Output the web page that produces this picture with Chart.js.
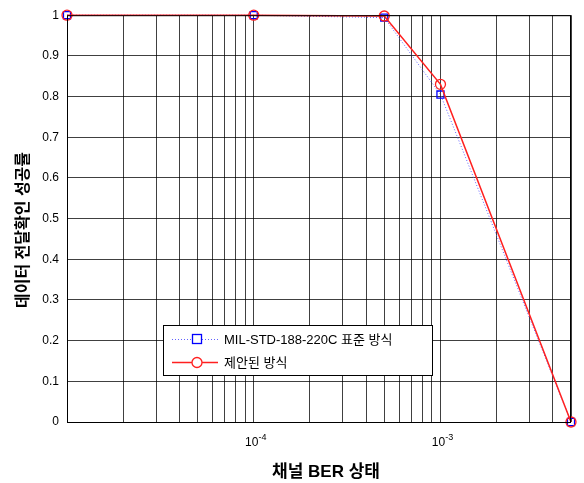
<!DOCTYPE html>
<html>
<head>
<meta charset="utf-8">
<script src="https://cdn.jsdelivr.net/npm/chart.js@4/dist/chart.umd.min.js"></script>
<style>
  html, body { margin: 0; padding: 0; background: #fff; }
  #wrap { width: 584px; height: 483px; }
</style>
</head>
<body>
<div id="wrap"><canvas id="c" width="584" height="483"></canvas></div>
<script>
// Channel BER conditions (x) and acknowledgement success rates (y)
const berValues = [1e-5, 1e-4, 5e-4, 1e-3, 5e-3];
const milStdRates = [1, 1, 0.994, 0.805, 0];
const proposedRates = [1, 1, 0.998, 0.83, 0];

const seriesNames = ['MIL-STD-188-220C 표준 방식', '제안된 방식'];
const xTitle = '채널 BER 상태';
const yTitle = '데이터 전달확인 성공률';

// Labelled decades on the BER axis: mantissa 10, exponent as superscript
const xTickLabels = [
  { value: 1e-4, base: '10', exp: '-4' },
  { value: 1e-3, base: '10', exp: '-3' }
];
const xRange = [1e-5, 5e-3];
const yTickLabels = ['0', '0.1', '0.2', '0.3', '0.4', '0.5', '0.6', '0.7', '0.8', '0.9', '1'];

const FONT = '"Liberation Sans", Arial, "Noto Sans CJK KR", sans-serif';

// Log grid: every 1..9 multiple of each decade inside the range
function logGridValues(min, max) {
  const out = [];
  for (let e = Math.floor(Math.log10(min)); e <= Math.ceil(Math.log10(max)); e++) {
    for (let m = 1; m <= 9; m++) {
      const v = m * Math.pow(10, e);
      if (v >= min * 0.999999 && v <= max * 1.000001) out.push(v);
    }
  }
  return out;
}

const frameAndText = {
  id: 'frameAndText',
  afterDraw(chart) {
    const ctx = chart.ctx;
    const a = chart.chartArea;
    const xs = chart.scales.x;
    ctx.save();
    // plot frame
    ctx.strokeStyle = '#000';
    ctx.lineWidth = 1;
    ctx.strokeRect(a.left + 0.5, a.top + 0.5, a.right - a.left - 1, a.bottom - a.top);

    // x tick labels with superscript exponents
    ctx.fillStyle = '#000';
    ctx.textBaseline = 'alphabetic';
    xTickLabels.forEach(t => {
      const px = xs.getPixelForValue(t.value);
      ctx.font = '12px ' + FONT;
      const wb = ctx.measureText(t.base).width;
      ctx.font = '9px ' + FONT;
      const we = ctx.measureText(t.exp).width;
      const x0 = px - (wb + we) / 2 + 2;
      ctx.font = '12px ' + FONT;
      ctx.textAlign = 'left';
      ctx.fillText(t.base, x0, a.bottom + 24);
      ctx.font = '9px ' + FONT;
      ctx.fillText(t.exp, x0 + wb, a.bottom + 18);
    });

    // axis titles
    ctx.font = 'bold 17px ' + FONT;
    ctx.textAlign = 'center';
    ctx.textBaseline = 'middle';
    ctx.fillText(xTitle, 326, 472);
    ctx.save();
    ctx.translate(24, 230);
    ctx.rotate(-Math.PI / 2);
    ctx.font = 'bold 16px ' + FONT;
    ctx.fillText(yTitle, 0, 0);
    ctx.restore();

    // legend box
    const lx = 163, ly = 325, lw = 269, lh = 50;
    ctx.fillStyle = '#fff';
    ctx.fillRect(lx, ly, lw, lh);
    ctx.strokeStyle = '#000';
    ctx.lineWidth = 1;
    ctx.strokeRect(lx + 0.5, ly + 0.5, lw, lh);
    const rows = [
      { y: 339, ds: chart.data.datasets[0] },
      { y: 362, ds: chart.data.datasets[1] }
    ];
    rows.forEach(r => {
      const ds = r.ds;
      ctx.strokeStyle = ds.borderColor;
      ctx.lineWidth = ds.borderWidth;
      ctx.setLineDash(ds.borderDash || []);
      ctx.beginPath();
      ctx.moveTo(172, r.y + 0.5);
      ctx.lineTo(218, r.y + 0.5);
      ctx.stroke();
      ctx.setLineDash([]);
      ctx.lineWidth = ds.pointBorderWidth;
      ctx.strokeStyle = ds.pointBorderColor;
      ctx.fillStyle = '#fff';
      if (ds.pointStyle === 'rect') {
        ctx.fillRect(192, r.y - 5, 10, 10);
        ctx.strokeRect(192.5, r.y - 4.5, 9, 9);
      } else {
        ctx.beginPath();
        ctx.arc(197, r.y + 0.5, 5, 0, Math.PI * 2);
        ctx.fill();
        ctx.stroke();
      }
      ctx.fillStyle = '#000';
      ctx.font = '13px ' + FONT;
      ctx.textAlign = 'left';
      ctx.textBaseline = 'middle';
      ctx.fillText(ds.label, 224, r.y + 1);
    });
    ctx.restore();
  }
};

const whiteBg = {
  id: 'whiteBg',
  beforeDraw(chart) {
    const ctx = chart.ctx;
    ctx.save();
    ctx.fillStyle = '#fff';
    ctx.fillRect(0, 0, chart.width, chart.height);
    ctx.restore();
  }
};

new Chart(document.getElementById('c'), {
  type: 'line',
  data: {
    datasets: [
      {
        label: seriesNames[0],
        data: berValues.map((x, i) => ({ x, y: milStdRates[i] })),
        borderColor: 'rgba(80,80,255,0.9)',
        borderWidth: 1,
        borderDash: [1, 2],
        pointStyle: 'rect',
        pointRadius: 5,
        pointBorderColor: '#0000ff',
        pointBackgroundColor: 'rgba(0,0,0,0)',
        pointBorderWidth: 1.3,
        tension: 0,
        clip: false,
        order: 1
      },
      {
        label: seriesNames[1],
        data: berValues.map((x, i) => ({ x, y: proposedRates[i] })),
        borderColor: '#ff2020',
        borderWidth: 1.5,
        pointStyle: 'circle',
        pointRadius: 5,
        pointBorderColor: '#ff2020',
        pointBackgroundColor: 'rgba(0,0,0,0)',
        pointBorderWidth: 1.3,
        tension: 0,
        clip: false,
        order: 0
      }
    ]
  },
  options: {
    responsive: false,
    animation: false,
    layout: { padding: { left: 0, right: 13, top: 15, bottom: 0 } },
    plugins: { legend: { display: false }, tooltip: { enabled: false } },
    scales: {
      x: {
        type: 'logarithmic',
        min: xRange[0],
        max: xRange[1],
        afterBuildTicks(scale) {
          scale.ticks = logGridValues(xRange[0], xRange[1]).map(v => ({ value: v }));
        },
        afterFit(scale) { scale.height = 61; },
        grid: { color: 'rgba(0,0,0,0.75)', lineWidth: 1, drawTicks: false },
        border: { display: false },
        ticks: { display: false }
      },
      y: {
        min: 0,
        max: 1,
        afterBuildTicks(scale) {
          scale.ticks = yTickLabels.map(s => ({ value: parseFloat(s) }));
        },
        afterFit(scale) { scale.width = 67; },
        grid: { color: 'rgba(0,0,0,0.75)', lineWidth: 1, drawTicks: false },
        border: { display: false },
        ticks: {
          padding: 8,
          color: '#000',
          font: { family: FONT, size: 12 },
          callback(value, index) { return yTickLabels[index]; }
        }
      }
    }
  },
  plugins: [whiteBg, frameAndText]
});
</script>
</body>
</html>
